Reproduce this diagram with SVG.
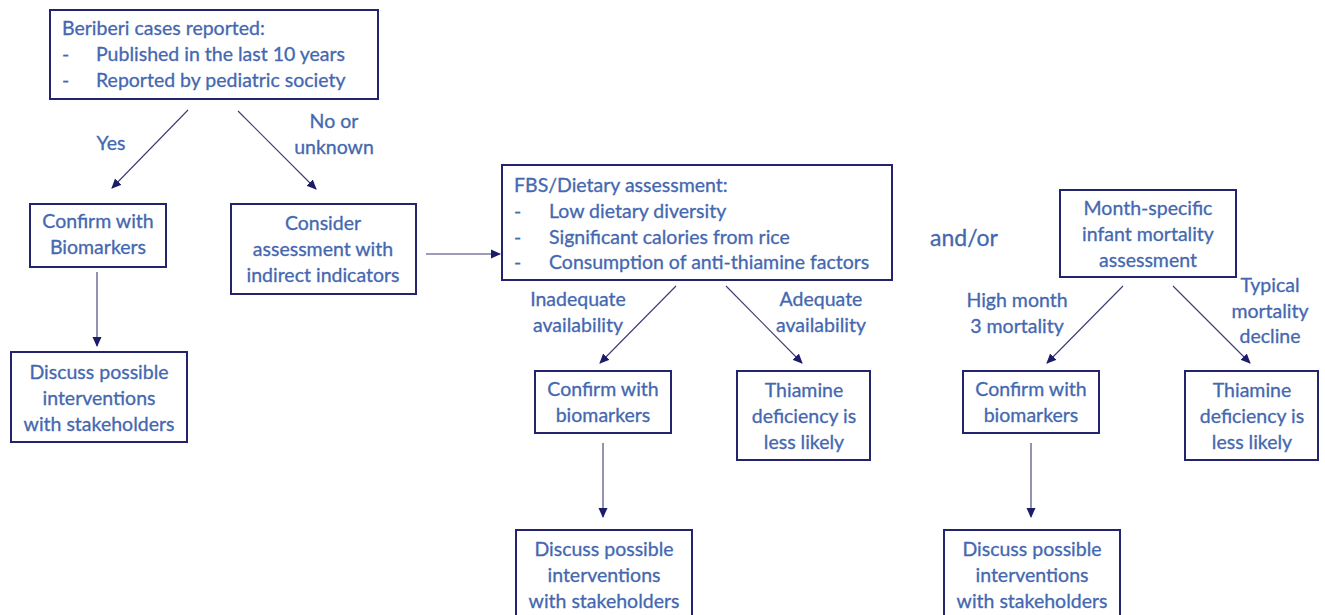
<svg xmlns="http://www.w3.org/2000/svg" width="1325" height="615" viewBox="0 0 1325 615">
<style>
.box{fill:#fff;stroke:#23236e;stroke-width:2}
text{font-family:Lato,"Liberation Sans",sans-serif;font-size:19.5px;fill:#4468b0;stroke:#4468b0;stroke-width:0.3}
.c{text-anchor:middle}
.con line{stroke:#3a3a72;stroke-width:1.1;marker-end:url(#ah)}
</style>
<defs>
<marker id="ah" viewBox="0 0 10 10" refX="9" refY="5" markerWidth="10" markerHeight="10" markerUnits="userSpaceOnUse" orient="auto">
<path d="M0,0.5 L10,5 L0,9.5 Z" fill="#1c1c6a"/>
</marker>
</defs>
<rect width="1325" height="615" fill="#fff"/>

<g id="n1">
<rect class="box" x="50" y="10" width="328" height="89"/>
<text x="62" y="35">Beriberi cases reported:</text>
<text x="62" y="61">-</text><text x="96" y="61">Published in the last 10 years</text>
<text x="62" y="87">-</text><text x="96" y="87">Reported by pediatric society</text>
</g>
<g id="n2">
<rect class="box" x="30" y="204" width="136" height="63"/>
<text class="c" x="98" y="228">Confirm with</text>
<text class="c" x="98" y="254">Biomarkers</text>
</g>
<g id="n3">
<rect class="box" x="11" y="352" width="176" height="90"/>
<text class="c" x="99" y="379">Discuss possible</text>
<text class="c" x="99" y="405">interventions</text>
<text class="c" x="99" y="431">with stakeholders</text>
</g>
<g id="n4">
<rect class="box" x="231" y="204" width="185" height="90"/>
<text class="c" x="323" y="230">Consider</text>
<text class="c" x="323" y="256">assessment with</text>
<text class="c" x="323" y="282">indirect indicators</text>
</g>
<g id="n5">
<rect class="box" x="502" y="165" width="390" height="115"/>
<text x="514" y="192">FBS/Dietary assessment:</text>
<text x="514" y="218">-</text><text x="549" y="218">Low dietary diversity</text>
<text x="514" y="244">-</text><text x="549" y="244">Significant calories from rice</text>
<text x="514" y="269">-</text><text x="549" y="269">Consumption of anti-thiamine factors</text>
</g>
<g id="n6">
<rect class="box" x="535" y="371" width="136" height="62"/>
<text class="c" x="603" y="396">Confirm with</text>
<text class="c" x="603" y="422">biomarkers</text>
</g>
<g id="n7">
<rect class="box" x="737" y="371" width="133" height="89"/>
<text class="c" x="804" y="397">Thiamine</text>
<text class="c" x="804" y="423">deficiency is</text>
<text class="c" x="804" y="449">less likely</text>
</g>
<g id="n8">
<rect class="box" x="516" y="530" width="176" height="86"/>
<text class="c" x="604" y="556">Discuss possible</text>
<text class="c" x="604" y="582">interventions</text>
<text class="c" x="604" y="608">with stakeholders</text>
</g>
<g id="n9">
<text x="930" y="246" style="font-size:23px">and/or</text>
</g>
<g id="n10">
<rect class="box" x="1060" y="190" width="176" height="87"/>
<text class="c" x="1148" y="215">Month-specific</text>
<text class="c" x="1148" y="241">infant mortality</text>
<text class="c" x="1148" y="267">assessment</text>
</g>
<g id="n11">
<rect class="box" x="963" y="371" width="136" height="62"/>
<text class="c" x="1031" y="396">Confirm with</text>
<text class="c" x="1031" y="422">biomarkers</text>
</g>
<g id="n12">
<rect class="box" x="1185" y="371" width="133" height="89"/>
<text class="c" x="1252" y="397">Thiamine</text>
<text class="c" x="1252" y="423">deficiency is</text>
<text class="c" x="1252" y="449">less likely</text>
</g>
<g id="n13">
<rect class="box" x="944" y="530" width="176" height="86"/>
<text class="c" x="1032" y="556">Discuss possible</text>
<text class="c" x="1032" y="582">interventions</text>
<text class="c" x="1032" y="608">with stakeholders</text>
</g>

<g id="connectors" class="con">
<line x1="188" y1="110" x2="112" y2="188"/>
<line x1="238" y1="111" x2="316" y2="189"/>
<line x1="97" y1="272" x2="97" y2="346"/>
<line x1="426" y1="254" x2="500" y2="254"/>
<line x1="676" y1="286" x2="600" y2="363"/>
<line x1="726" y1="286" x2="802" y2="363"/>
<line x1="603" y1="443" x2="603" y2="517"/>
<line x1="1123" y1="286" x2="1047" y2="363"/>
<line x1="1173" y1="286" x2="1250" y2="363"/>
<line x1="1031" y1="443" x2="1031" y2="517"/>
</g>
<g id="labels">
<text class="c" x="111" y="150">Yes</text>
<text class="c" x="334" y="128">No or</text>
<text class="c" x="334" y="154">unknown</text>
<text class="c" x="578" y="306">Inadequate</text>
<text class="c" x="578" y="332">availability</text>
<text class="c" x="821" y="306">Adequate</text>
<text class="c" x="821" y="332">availability</text>
<text class="c" x="1017" y="307">High month</text>
<text class="c" x="1017" y="333">3 mortality</text>
<text class="c" x="1270" y="292">Typical</text>
<text class="c" x="1270" y="318">mortality</text>
<text class="c" x="1270" y="343">decline</text>
</g>
</svg>
